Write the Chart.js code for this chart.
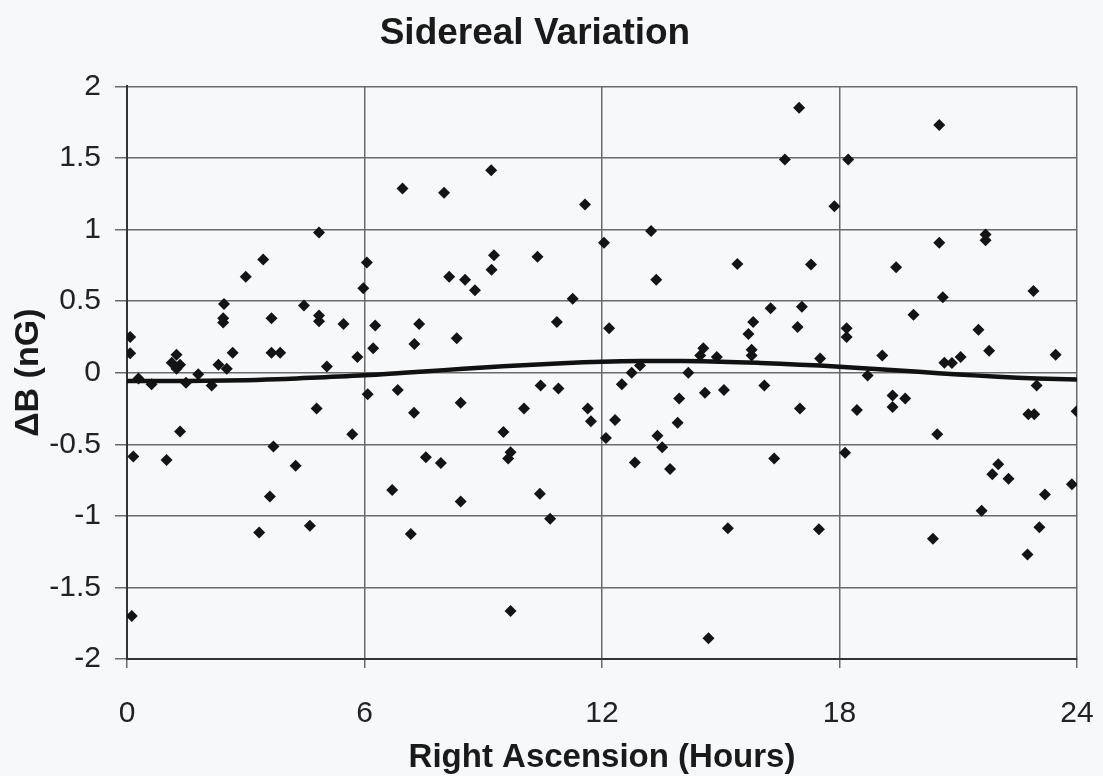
<!DOCTYPE html>
<html>
<head>
<meta charset="utf-8">
<title>Sidereal Variation</title>
<script src="https://cdn.jsdelivr.net/npm/chart.js@4.4.1/dist/chart.umd.min.js"></script>
<style>
  html, body { margin: 0; padding: 0; background: #f6f8fa; }
  #wrap { width: 1103px; height: 776px; position: relative; }
</style>
</head>
<body>
<div id="wrap"><canvas id="siderealChart"></canvas></div>
<script>
// Right ascension (hours) of each measurement
const raHours = [
  0.08, 0.08, 0.12, 0.16, 0.29, 0.62, 1.00, 1.13, 1.25, 1.34,
  1.25, 1.34, 1.49, 1.80, 2.14, 2.31, 2.52, 2.45, 2.43, 2.43,
  2.67, 3.00, 3.34, 3.44, 3.61, 3.65, 3.65, 3.70, 3.87, 4.26,
  4.47, 4.62, 4.79, 4.85, 4.85, 4.85, 5.05, 5.47, 5.69, 5.82,
  5.97, 6.06, 6.08, 6.22, 6.27, 6.70, 6.84, 6.96, 7.17, 7.25,
  7.26, 7.38, 7.55, 7.93, 8.01, 8.14, 8.33, 8.43, 8.43, 8.54,
  8.79, 9.20, 9.21, 9.27, 9.51, 9.63, 9.69, 9.69, 10.03, 10.37,
  10.43, 10.45, 10.69, 10.86, 10.90, 11.26, 11.57, 11.64, 11.72, 12.05,
  12.10, 12.18, 12.33, 12.50, 12.75, 12.83, 12.96, 13.24, 13.37, 13.40,
  13.52, 13.72, 13.91, 13.95, 14.18, 14.48, 14.56, 14.60, 14.69, 14.90,
  15.08, 15.18, 15.42, 15.70, 15.78, 15.78, 15.82, 16.10, 16.26, 16.35,
  16.62, 16.94, 16.98, 17.00, 17.05, 17.28, 17.48, 17.51, 17.87, 18.14,
  18.18, 18.18, 18.22, 18.44, 18.71, 19.08, 19.34, 19.34, 19.43, 19.66,
  19.87, 20.36, 20.47, 20.52, 20.52, 20.61, 20.65, 20.84, 21.06, 21.51,
  21.59, 21.69, 21.69, 21.78, 21.86, 22.01, 22.27, 22.75, 22.77, 22.90,
  22.92, 22.98, 23.05, 23.19, 23.46, 23.87, 23.99
];

// Delta B (nG) of each measurement
const deltaB = [
  0.25, 0.135, -1.70, -0.585, -0.04, -0.08, -0.61, 0.07, 0.126, 0.056,
  0.028, -0.41, -0.07, -0.01, -0.09, 0.056, 0.028, 0.48, 0.38, 0.35,
  0.14, 0.67, -1.117, 0.79, -0.865, 0.38, 0.14, -0.515, 0.14, -0.65,
  0.47, -1.07, -0.25, 0.98, 0.40, 0.36, 0.044, 0.34, -0.43, 0.11,
  0.59, 0.77, -0.15, 0.17, 0.33, -0.82, -0.12, 1.287, -1.126, -0.28,
  0.20, 0.34, -0.59, -0.63, 1.257, 0.67, 0.24, -0.21, -0.90, 0.65,
  0.576, 1.415, 0.72, 0.82, -0.415, -0.60, -0.555, -1.665, -0.25, 0.81,
  -0.846, -0.09, -1.02, 0.355, -0.11, 0.517, 1.175, -0.25, -0.34, 0.907,
  -0.457, 0.31, -0.33, -0.08, 0.0, -0.627, 0.05, 0.99, 0.65, -0.44,
  -0.52, -0.673, -0.35, -0.18, 0.0, 0.12, 0.17, -0.14, -1.855, 0.11,
  -0.12, -1.086, 0.76, 0.27, 0.16, 0.12, 0.355, -0.09, 0.45, -0.60,
  1.49, 0.32, 1.85, -0.25, 0.46, 0.755, -1.093, 0.10, 1.163, -0.56,
  0.31, 0.25, 1.49, -0.26, -0.02, 0.12, -0.16, -0.24, 0.736, -0.18,
  0.405, -1.16, -0.43, 1.73, 0.907, 0.527, 0.07, 0.068, 0.11, 0.30,
  -0.965, 0.965, 0.925, 0.154, -0.71, -0.64, -0.74, -1.27, -0.29, 0.57,
  -0.29, -0.09, -1.08, -0.85, 0.126, -0.78, -0.27
];

const fitHours = [0, 1, 2, 3, 4, 5, 6, 7, 8, 9, 10, 11, 12,
                  13, 14, 15, 16, 17, 18, 19, 20, 21, 22, 23, 24];
const fitValues = [-0.058, -0.058, -0.056, -0.052, -0.044, -0.031, -0.018, 0.000, 0.018, 0.036, 0.052, 0.066, 0.076,
                   0.081, 0.081, 0.077, 0.068, 0.056, 0.042, 0.024, 0.006, -0.012, -0.028, -0.040, -0.048];

const xTicks = [0, 6, 12, 18, 24];
const yTicks = [2, 1.5, 1, 0.5, 0, -0.5, -1, -1.5, -2];

const scatterPoints = raHours.map((h, i) => ({ x: h, y: deltaB[i] }));
const fitPoints = fitHours.map((h, i) => ({ x: h, y: fitValues[i] }));

const FONT = "'Liberation Sans', Arial, sans-serif";
const gridColor = '#6a6a6a';

const ctx = document.getElementById('siderealChart');

new Chart(ctx, {
    type: 'scatter',
    data: {
        datasets: [
            {
                label: 'Fit',
                type: 'line',
                data: fitPoints,
                borderColor: '#111111',
                borderWidth: 4.5,
                pointRadius: 0,
                tension: 0.4,
                fill: false,
                order: 0
            },
            {
                label: 'Data',
                data: scatterPoints,
                pointStyle: 'rectRot',
                pointRadius: 6,
                backgroundColor: '#141414',
                borderColor: '#141414',
                borderWidth: 0,
                order: 1
            }
        ]
    },
    options: {
        responsive: true,
        maintainAspectRatio: false,
        animation: false,
        layout: {
            padding: { left: 8, right: 0, top: 6, bottom: 0 }
        },
        plugins: {
            legend: { display: false },
            tooltip: { enabled: false },
            title: {
                display: true,
                // trailing spaces nudge the title a little left, as in the original
                text: 'Sidereal Variation    ',
                color: '#1a1a1a',
                font: { family: FONT, size: 37, weight: 'bold' },
                padding: { top: 6, bottom: 30 }
            }
        },
        scales: {
            x: {
                type: 'linear',
                min: 0,
                max: 24,
                afterBuildTicks: (scale) => {
                    scale.ticks = xTicks.map(v => ({ value: v }));
                },
                afterFit: (scale) => {
                    // keep the plot frame where the original sits
                    scale.height = 117;
                    scale.paddingRight = 26;
                },
                grid: {
                    color: gridColor,
                    lineWidth: 1.5,
                    tickLength: 9,
                    drawTicks: true
                },
                border: { color: '#333333', width: 2 },
                ticks: {
                    color: '#222222',
                    padding: 28,
                    font: { family: FONT, size: 30 },
                    callback: (v) => String(v)
                },
                title: {
                    display: true,
                    text: 'Right Ascension (Hours)',
                    color: '#1a1a1a',
                    font: { family: FONT, size: 33, weight: 'bold', lineHeight: 1.1 },
                    padding: { top: 7, bottom: 0 }
                }
            },
            y: {
                type: 'linear',
                min: -2,
                max: 2,
                afterBuildTicks: (scale) => {
                    scale.ticks = yTicks.map(v => ({ value: v }));
                },
                afterFit: (scale) => {
                    scale.width = 119;
                },
                grid: {
                    color: gridColor,
                    lineWidth: 1.5,
                    tickLength: 12,
                    drawTicks: true
                },
                border: { color: '#333333', width: 2 },
                ticks: {
                    color: '#222222',
                    padding: 14,
                    font: { family: FONT, size: 30 },
                    callback: (v) => String(v)
                },
                title: {
                    display: true,
                    text: 'ΔB (nG)',
                    color: '#1a1a1a',
                    font: { family: FONT, size: 34, weight: 'bold' },
                    padding: { top: 0, bottom: 0 }
                }
            }
        }
    }
});
</script>
</body>
</html>
